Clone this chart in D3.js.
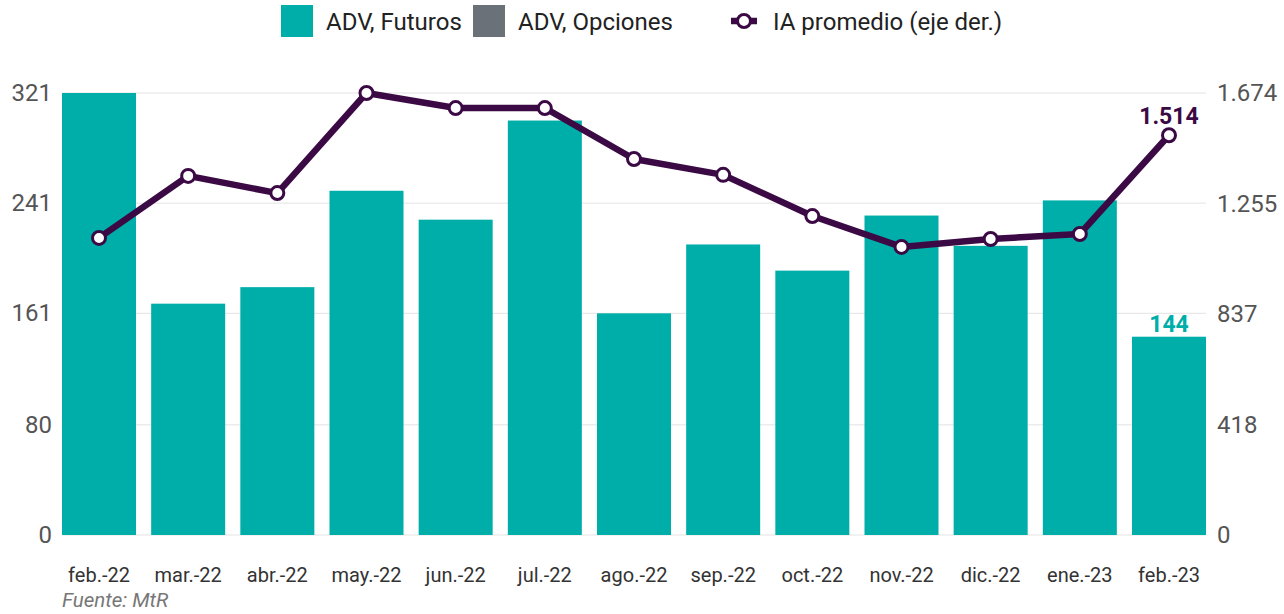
<!DOCTYPE html>
<html>
<head>
<meta charset="utf-8">
<script src="https://cdn.jsdelivr.net/npm/d3@7"></script>
<style>
  body { margin: 0; background: #fff; font-family: Roboto, "Noto Sans", sans-serif; }
  svg text { font-family: Roboto, "Noto Sans", sans-serif; }
</style>
</head>
<body>
<div id="chart"></div>
<script>
// data
var months = ["feb.-22", "mar.-22", "abr.-22", "may.-22", "jun.-22", "jul.-22", "ago.-22",
              "sep.-22", "oct.-22", "nov.-22", "dic.-22", "ene.-23", "feb.-23"];
var advFuturos = [321, 168, 180, 250, 229, 301, 161, 211, 192, 232, 210, 243, 144];
var advOpciones = [0, 0, 0, 0, 0, 0, 0, 0, 0, 0, 0, 0, 0];
var iaPromedio = [1125, 1360, 1295, 1674, 1617, 1617, 1424, 1364, 1208, 1091, 1121, 1140, 1514];
var leftTicks = [0, 80, 161, 241, 321];
var rightTicks = [0, 418, 837, 1255, 1674];

var width = 1284, height = 614;
var plotLeft = 62, plotRight = 1206, plotTop = 93, plotBottom = 535;

var teal = "#00aea9", grey = "#6b7178", purple = "#3b0a45";

var es = d3.formatLocale({ decimal: ",", thousands: ".", grouping: [3], currency: ["", "€"] });
var fmt = es.format(",d");

var svg = d3.select("#chart").append("svg")
    .attr("width", width)
    .attr("height", height);

var x = d3.scaleBand()
    .domain(months)
    .range([plotLeft, plotRight])
    .paddingInner(0.17)
    .paddingOuter(0);

var y = d3.scaleLinear().domain([0, 321]).range([plotBottom, plotTop]);
var y2 = d3.scaleLinear().domain([0, 1674]).range([plotBottom, plotTop]);

// grid
svg.append("g").selectAll("line")
    .data(leftTicks)
    .enter().append("line")
    .attr("x1", plotLeft).attr("x2", plotRight)
    .attr("y1", function (d) { return y(d); })
    .attr("y2", function (d) { return y(d); })
    .attr("stroke", "#e3e3e3")
    .attr("stroke-width", 1);

// left axis
var yAxis = d3.axisLeft(y).tickValues(leftTicks).tickSize(0).tickPadding(0);
var gy = svg.append("g").attr("transform", "translate(52,0)").call(yAxis);
gy.select(".domain").remove();
gy.selectAll("text").attr("font-size", 24).attr("fill", "#555");

// right axis
var y2Axis = d3.axisRight(y2).tickValues(rightTicks).tickSize(0).tickPadding(0).tickFormat(fmt);
var gy2 = svg.append("g").attr("transform", "translate(1217,0)").call(y2Axis);
gy2.select(".domain").remove();
gy2.selectAll("text").attr("font-size", 24).attr("fill", "#555");

// x axis
var xAxis = d3.axisBottom(x).tickSize(0).tickPadding(0);
var gx = svg.append("g").attr("transform", "translate(0,568)").call(xAxis);
gx.select(".domain").remove();
gx.selectAll("text").attr("font-size", 20).attr("fill", "#333");

// bars
svg.append("g").selectAll("rect")
    .data(advFuturos)
    .enter().append("rect")
    .attr("x", function (d, i) { return x(months[i]); })
    .attr("y", function (d) { return y(d); })
    .attr("width", x.bandwidth())
    .attr("height", function (d) { return plotBottom - y(d); })
    .attr("fill", teal);

// line
var line = d3.line()
    .x(function (d, i) { return x(months[i]) + x.bandwidth() / 2; })
    .y(function (d) { return y2(d); });

svg.append("path")
    .datum(iaPromedio)
    .attr("d", line)
    .attr("fill", "none")
    .attr("stroke", purple)
    .attr("stroke-width", 6.5)
    .attr("stroke-linejoin", "round");

svg.append("g").selectAll("circle")
    .data(iaPromedio)
    .enter().append("circle")
    .attr("cx", function (d, i) { return x(months[i]) + x.bandwidth() / 2; })
    .attr("cy", function (d) { return y2(d); })
    .attr("r", 6.5)
    .attr("fill", "#fff")
    .attr("stroke", purple)
    .attr("stroke-width", 3);

// last value labels
var last = months.length - 1;
var cxLast = x(months[last]) + x.bandwidth() / 2;
svg.append("text")
    .attr("x", cxLast).attr("y", y2(iaPromedio[last]) - 11)
    .attr("text-anchor", "middle")
    .attr("font-size", 23).attr("font-weight", "bold")
    .attr("fill", purple)
    .text(fmt(iaPromedio[last]));
svg.append("text")
    .attr("x", cxLast).attr("y", y(advFuturos[last]) - 5)
    .attr("text-anchor", "middle")
    .attr("font-size", 23).attr("font-weight", "bold")
    .attr("fill", teal)
    .text(advFuturos[last]);

// legend
var lg = svg.append("g");
lg.append("rect").attr("x", 281).attr("y", 5).attr("width", 32).attr("height", 32).attr("fill", teal);
lg.append("text").attr("x", 326).attr("y", 30).attr("font-size", 24).attr("fill", "#222").text("ADV, Futuros");
lg.append("rect").attr("x", 473).attr("y", 5).attr("width", 32).attr("height", 32).attr("fill", grey);
lg.append("text").attr("x", 518).attr("y", 30).attr("font-size", 24).attr("fill", "#222").text("ADV, Opciones");
lg.append("line").attr("x1", 731).attr("x2", 757).attr("y1", 21).attr("y2", 21)
    .attr("stroke", purple).attr("stroke-width", 6.5);
lg.append("circle").attr("cx", 744).attr("cy", 21).attr("r", 6.5)
    .attr("fill", "#fff").attr("stroke", purple).attr("stroke-width", 3);
lg.append("text").attr("x", 773).attr("y", 30).attr("font-size", 24).attr("fill", "#222").text("IA promedio (eje der.)");

// source
svg.append("text")
    .attr("x", 62).attr("y", 607)
    .attr("font-size", 20.5).attr("font-style", "italic")
    .attr("fill", "#777")
    .text("Fuente: MtR");
</script>
</body>
</html>
